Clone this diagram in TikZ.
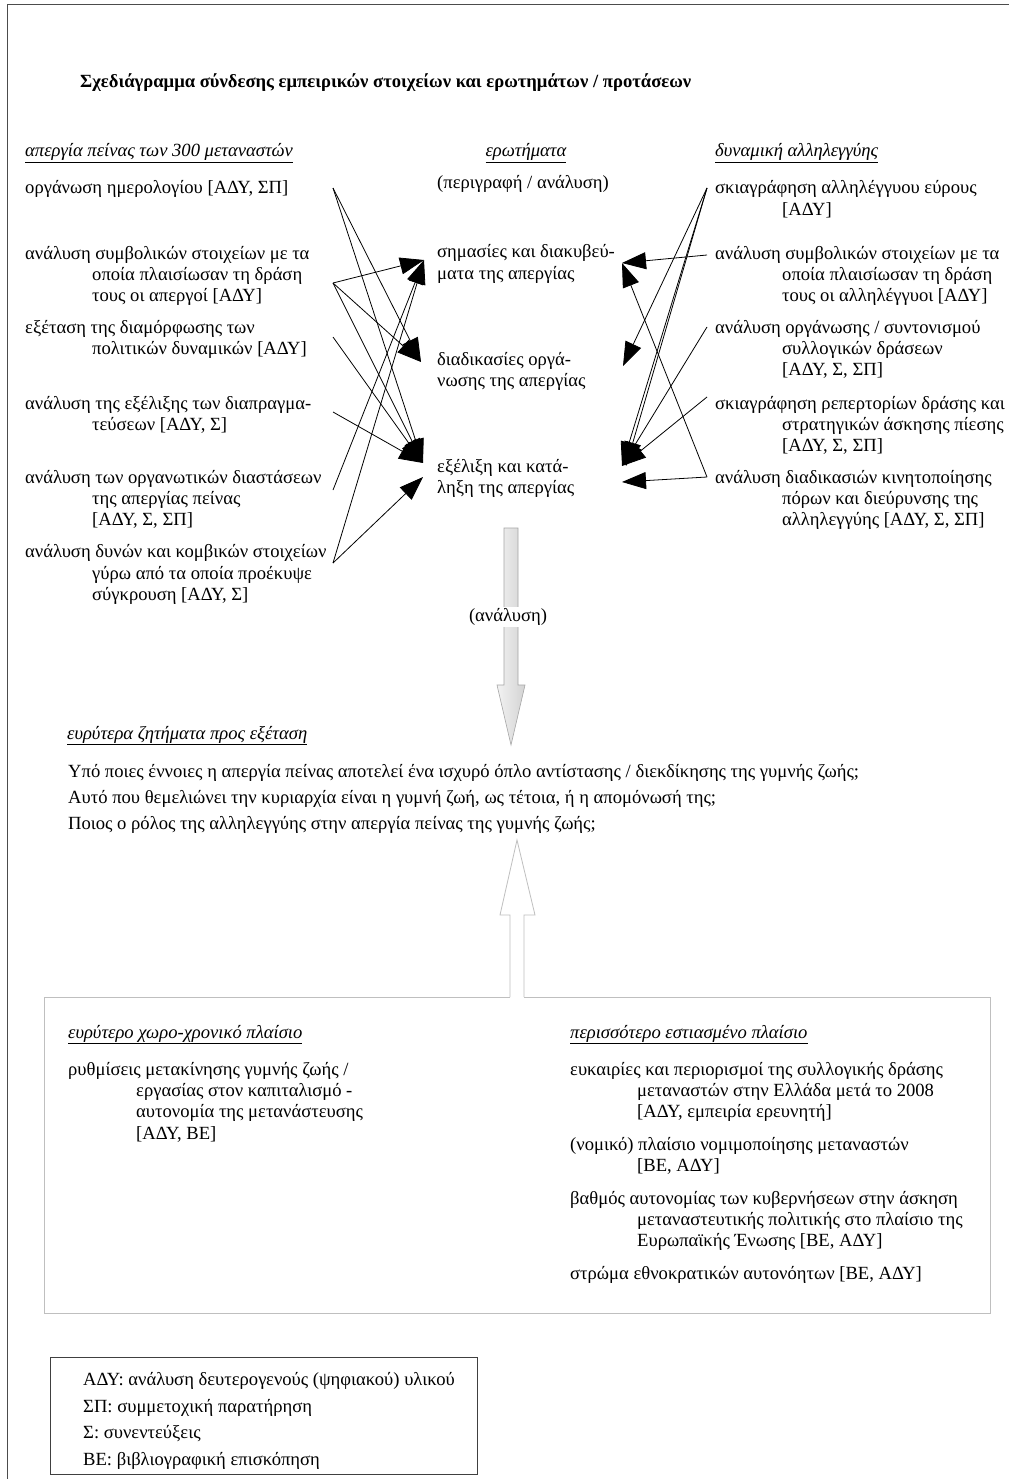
\documentclass[tikz,border=0pt]{standalone}
\usepackage{fontspec}
\setmainfont{Liberation Serif}
\usetikzlibrary{arrows.meta}
\newcommand\fs{\fontsize{18.6}{21}\selectfont}
\begin{document}
\begin{tikzpicture}[x=1pt,y=-1pt,
  txt/.style={anchor=base west, inner sep=0pt, font=\fs},
  hdr/.style={anchor=base west, inner sep=0pt, font=\fs\itshape},
  conn/.style={-{Triangle[length=24pt,width=17pt]}, line width=0.8pt, black}]
\useasboundingbox (0,0) rectangle (1009,1479);
\fill[white] (0,0) rectangle (1009,1479);
% page frame
\draw[line width=1pt, black!70] (7,1479) -- (7,5) -- (1009,5);
% title
\node[anchor=base west, inner sep=0pt, font=\fs\bfseries] (title) at (80,88) {Σχεδιάγραμμα σύνδεσης εμπειρικών στοιχείων και ερωτημάτων / προτάσεων};
% left column
\node[hdr] (hl) at (25,157) {\underline{απεργία πείνας των 300 μεταναστών}};
\node[txt] (l1) at (25,194) {οργάνωση ημερολογίου [ΑΔΥ, ΣΠ]};
\node[txt] (l2a) at (25,259) {ανάλυση συμβολικών στοιχείων με τα};
\node[txt] (l2b) at (92,280) {οποία πλαισίωσαν τη δράση};
\node[txt] (l2c) at (92,301) {τους οι απεργοί [ΑΔΥ]};
\node[txt] (l3a) at (25,333) {εξέταση της διαμόρφωσης των};
\node[txt] (l3b) at (92,354) {πολιτικών δυναμικών [ΑΔΥ]};
\node[txt] (l4a) at (25,409) {ανάλυση της εξέλιξης των διαπραγμα-};
\node[txt] (l4b) at (92,430) {τεύσεων [ΑΔΥ, Σ]};
\node[txt] (l5a) at (25,483) {ανάλυση των οργανωτικών διαστάσεων};
\node[txt] (l5b) at (92,504) {της απεργίας πείνας};
\node[txt] (l5c) at (92,525) {[ΑΔΥ, Σ, ΣΠ]};
\node[txt] (l6a) at (25,557) {ανάλυση δυνών και κομβικών στοιχείων};
\node[txt] (l6b) at (92,579) {γύρω από τα οποία προέκυψε};
\node[txt] (l6c) at (92,600) {σύγκρουση [ΑΔΥ, Σ]};
% middle column
\node[anchor=base, inner sep=0pt, font=\fs\itshape] (hm) at (526,157) {\underline{ερωτήματα}};
\node[txt] (sub) at (437,189) {(περιγραφή / ανάλυση)};
\node[txt] (q1a) at (437,258) {σημασίες και διακυβεύ-};
\node[txt] (q1b) at (437,279) {ματα της απεργίας};
\node[txt] (q2a) at (437,365) {διαδικασίες οργά-};
\node[txt] (q2b) at (437,386) {νωσης της απεργίας};
\node[txt] (q3a) at (437,472) {εξέλιξη και κατά-};
\node[txt] (q3b) at (437,493) {ληξη της απεργίας};
% right column
\node[hdr] (hr) at (715,157) {\underline{δυναμική αλληλεγγύης}};
\node[txt] (r1a) at (715,194) {σκιαγράφηση αλληλέγγυου εύρους};
\node[txt] (r1b) at (782,216) {[ΑΔΥ]};
\node[txt] (r2a) at (715,259) {ανάλυση συμβολικών στοιχείων με τα};
\node[txt] (r2b) at (782,280) {οποία πλαισίωσαν τη δράση};
\node[txt] (r2c) at (782,301) {τους οι αλληλέγγυοι [ΑΔΥ]};
\node[txt] (r3a) at (715,333) {ανάλυση οργάνωσης / συντονισμού};
\node[txt] (r3b) at (782,354) {συλλογικών δράσεων};
\node[txt] (r3c) at (782,375) {[ΑΔΥ, Σ, ΣΠ]};
\node[txt] (r4a) at (715,409) {σκιαγράφηση ρεπερτορίων δράσης και};
\node[txt] (r4b) at (782,430) {στρατηγικών άσκησης πίεσης};
\node[txt] (r4c) at (782,451) {[ΑΔΥ, Σ, ΣΠ]};
\node[txt] (r5a) at (715,483) {ανάλυση διαδικασιών κινητοποίησης};
\node[txt] (r5b) at (782,504) {πόρων και διεύρυνσης της};
\node[txt] (r5c) at (782,525) {αλληλεγγύης [ΑΔΥ, Σ, ΣΠ]};
% connector points
\coordinate (sL1) at (333,188);
\coordinate (sL2) at (333,283);
\coordinate (sL3) at (333,337);
\coordinate (sL4) at (333,412);
\coordinate (sL5) at (333,490);
\coordinate (sL6) at (333,563);
\coordinate (tQ1L) at (424,260);
\coordinate (tQ2L) at (421,362);
\coordinate (tQ3L) at (423,463);
\coordinate (tQ3Lb) at (423,477);
\coordinate (sR1) at (707,188);
\coordinate (sR2) at (707,255);
\coordinate (sR3) at (707,327);
\coordinate (sR4) at (707,397);
\coordinate (sR5) at (707,477);
\coordinate (tQ1R) at (622,263);
\coordinate (tQ2R) at (623,366);
\coordinate (tQ3R) at (622,466);
\coordinate (tQ3Rb) at (622,482);
% left connectors
\draw[conn] (sL1) -- (tQ2L);
\draw[conn] (sL1) -- (tQ3L);
\draw[conn] (sL2) -- (tQ1L);
\draw[conn] (sL2) -- (tQ2L);
\draw[conn] (sL2) -- (tQ3L);
\draw[conn] (sL3) -- (tQ3L);
\draw[conn] (sL4) -- (tQ3L);
\draw[conn] (sL5) -- (tQ1L);
\draw[conn] (sL6) -- (tQ1L);
\draw[conn] (sL6) -- (tQ3Lb);
% right connectors
\draw[conn] (sR1) -- (tQ2R);
\draw[conn] (sR1) -- (tQ3R);
\draw[conn] (sR1) -- ([xshift=4pt]tQ3R);
\draw[conn] (sR2) -- (tQ1R);
\draw[conn] (sR3) -- (tQ3R);
\draw[conn] (sR4) -- (tQ3R);
\draw[conn] (sR5) -- (tQ1R);
\draw[conn] (sR5) -- (tQ3Rb);
% down arrow
\draw[gray!70, left color=gray!10, right color=gray!35, line width=0.6pt] (504,528) -- (518,528) -- (518,685) -- (525,685) -- (511,745) -- (497,685) -- (504,685) -- cycle;
\node[fill=white, inner sep=1pt, font=\fs] (an) at (508,617) {(ανάλυση)};
% wider questions
\node[hdr] (hq) at (67,739) {\underline{ευρύτερα ζητήματα προς εξέταση}};
\node[txt] (w1) at (68,777) {Υπό ποιες έννοιες η απεργία πείνας αποτελεί ένα ισχυρό όπλο αντίστασης / διεκδίκησης της γυμνής ζωής;};
\node[txt] (w2) at (68,803) {Αυτό που θεμελιώνει την κυριαρχία είναι η γυμνή ζωή, ως τέτοια, ή η απομόνωσή της;};
\node[txt] (w3) at (68,829) {Ποιος ο ρόλος της αλληλεγγύης στην απεργία πείνας της γυμνής ζωής;};
% up arrow and context box
\draw[gray!50, line width=0.8pt] (510,997) -- (510,915) -- (500,915) -- (517,840) -- (535,915) -- (524,915) -- (524,997);
\draw[gray!50, line width=0.8pt] (510,997) -- (44,997) -- (44,1313) -- (990,1313) -- (990,997) -- (524,997);
\node[hdr] (hb1) at (68,1038) {\underline{ευρύτερο χωρο-χρονικό πλαίσιο}};
\node[txt] (b1a) at (68,1075) {ρυθμίσεις μετακίνησης γυμνής ζωής /};
\node[txt] (b1b) at (136,1096) {εργασίας στον καπιταλισμό -};
\node[txt] (b1c) at (136,1117) {αυτονομία της μετανάστευσης};
\node[txt] (b1d) at (136,1139) {[ΑΔΥ, ΒΕ]};
\node[hdr] (hb2) at (570,1038) {\underline{περισσότερο εστιασμένο πλαίσιο}};
\node[txt] (c1a) at (570,1075) {ευκαιρίες και περιορισμοί της συλλογικής δράσης};
\node[txt] (c1b) at (637,1096) {μεταναστών στην Ελλάδα μετά το 2008};
\node[txt] (c1c) at (637,1117) {[ΑΔΥ, εμπειρία ερευνητή]};
\node[txt] (c2a) at (570,1150) {(νομικό) πλαίσιο νομιμοποίησης μεταναστών};
\node[txt] (c2b) at (637,1171) {[ΒΕ, ΑΔΥ]};
\node[txt] (c3a) at (570,1204) {βαθμός αυτονομίας των κυβερνήσεων στην άσκηση};
\node[txt] (c3b) at (637,1225) {μεταναστευτικής πολιτικής στο πλαίσιο της};
\node[txt] (c3c) at (637,1246) {Ευρωπαϊκής Ένωσης [ΒΕ, ΑΔΥ]};
\node[txt] (c4a) at (570,1279) {στρώμα εθνοκρατικών αυτονόητων [ΒΕ, ΑΔΥ]};
% legend
\draw[black!75, line width=1pt] (50,1357) rectangle (477,1474);
\node[txt] (g1) at (83,1385) {ΑΔΥ: ανάλυση δευτερογενούς (ψηφιακού) υλικού};
\node[txt] (g2) at (83,1412) {ΣΠ: συμμετοχική παρατήρηση};
\node[txt] (g3) at (83,1438) {Σ: συνεντεύξεις};
\node[txt] (g4) at (83,1465) {ΒΕ: βιβλιογραφική επισκόπηση};
\end{tikzpicture}
\end{document}
